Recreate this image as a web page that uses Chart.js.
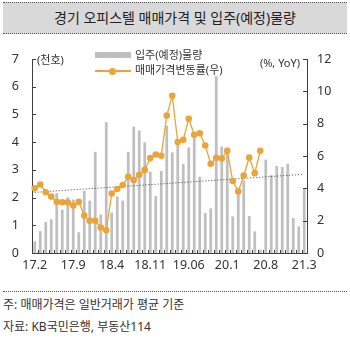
<!DOCTYPE html>
<html lang="ko">
<head>
<meta charset="utf-8">
<script src="https://cdn.jsdelivr.net/npm/chart.js@4"></script>
<style>
  body { margin: 0; width: 350px; height: 340px; background: #fff; position: relative; overflow: hidden;
         font-family: "Noto Sans", "Noto Sans CJK KR", sans-serif; color: #333; }
  .title { position: absolute; left: 3px; top: 2px; width: 344px; height: 30px; background: #d9d9d9;
           border-top: 1px dotted #555; border-bottom: 1px dotted #555; text-align: center;
           font-size: 14px; line-height: 30px; color: #222; }
  .chart-box { position: absolute; left: 0; top: 38px; width: 350px; height: 242px; }
  .txt { position: absolute; white-space: nowrap; font-size: 11px; line-height: 14px; color: #333; }
  .sw-bar { position: absolute; left: 95px; top: 52px; width: 36px; height: 6px; background: #bfbfbf; }
  .sw-line { position: absolute; left: 95px; top: 70px; width: 36px; height: 1.5px; background: #e9a53a; }
  .sw-dot { position: absolute; left: 109px; top: 67.5px; width: 7px; height: 7px; border-radius: 50%; background: #e9a53a; }
  .rule { position: absolute; left: 3px; top: 291px; width: 344px; border-top: 1px dotted #555; }
  .note { position: absolute; left: 3px; font-size: 12px; line-height: 16px; color: #333; }
</style>
</head>
<body>
<div class="title">경기 오피스텔 매매가격 및 입주(예정)물량</div>
<div class="chart-box"><canvas id="chart"></canvas></div>
<div class="txt" style="left:37px; top:53px;">(천호)</div>
<div class="txt" style="right:50px; top:56px;">(%, YoY)</div>
<div class="sw-bar"></div>
<div class="txt" style="left:135px; top:48px;">입주(예정)물량</div>
<div class="sw-line"></div>
<div class="sw-dot"></div>
<div class="txt" style="left:135px; top:63px;">매매가격변동률(우)</div>
<div class="rule"></div>
<div class="note" style="top:297px;">주: 매매가격은 일반거래가 평균 기준</div>
<div class="note" style="top:319px;">자료: KB국민은행, 부동산114</div>

<script>
// monthly categories, 2017.02 - 2021.03
const months = [
  '17.2','17.3','17.4','17.5','17.6','17.7','17.8','17.9','17.10','17.11','17.12',
  '18.1','18.2','18.3','18.4','18.5','18.6','18.7','18.8','18.9','18.10','18.11','18.12',
  '19.1','19.2','19.3','19.4','19.5','19.6','19.7','19.8','19.9','19.10','19.11','19.12',
  '20.1','20.2','20.3','20.4','20.5','20.6','20.7','20.8','20.9','20.10','20.11','20.12',
  '21.1','21.2','21.3'
];
// shown every 7th month
const xTickLabels = ['17.2', '17.9', '18.4', '18.11', '19.06', '20.1', '20.8', '21.3'];

// 입주(예정)물량, thousand units (left axis)
const supply = [
  0.42, 0.79, 1.12, 1.22, 2.16, 1.56, 2.01, 1.93, 0.75, 2.24, 1.89,
  3.65, 1.39, 4.72, 1.46, 2.04, 1.89, 3.65, 4.56, 4.42, 3.99, 2.93, 2.05,
  2.96, 4.60, 3.63, 3.99, 3.21, 3.81, 4.30, 2.75, 1.44, 1.61, 6.38, 3.84,
  3.80, 1.32, 2.26, 2.62, 1.33, 0.78, 0.12, 3.37, 2.81, 3.14, 3.10, 3.22,
  1.26, 0.96, 2.32
];

// 매매가격변동률, % YoY (right axis), ends at 20.7
const priceChange = [
  4.00, 4.24, 3.76, 3.49, 3.17, 3.14, 3.14, 2.94, 3.16, 2.32, 1.99,
  1.99, 1.58, 1.40, 3.68, 3.96, 4.20, 4.72, 4.52, 4.84, 5.14, 5.87, 6.09,
  6.02, 8.50, 9.72, 6.86, 7.00, 8.30, 7.31, 7.41, 6.65, 5.52, 5.89, 5.85,
  6.32, 4.45, 3.81, 4.79, 5.91, 4.94, 6.32, null, null, null, null, null,
  null, null, null
];

// dotted trend of the price change, first and last month
const trendStart = 3.75;
const trendEnd = 4.87;

const leftTicks = [0, 1, 2, 3, 4, 5, 6, 7];
const rightTicks = [0, 2, 4, 6, 8, 10, 12];

const orange = '#e9a53a';
const axisColor = '#404040';
const trendData = months.map((m, i) => i === 0 ? trendStart : (i === months.length - 1 ? trendEnd : null));

// tick marks that point into the plot
const innerTicks = {
  id: 'innerTicks',
  afterDatasetsDraw(chart) {
    const { ctx, chartArea, scales } = chart;
    ctx.save();
    ctx.strokeStyle = axisColor;
    ctx.lineWidth = 1;
    ctx.beginPath();
    leftTicks.forEach(v => {
      const y = Math.round(scales.y.getPixelForValue(v)) + 0.5;
      ctx.moveTo(chartArea.left, y);
      ctx.lineTo(chartArea.left + 4, y);
    });
    rightTicks.forEach(v => {
      const y = Math.round(scales.y2.getPixelForValue(v)) + 0.5;
      ctx.moveTo(chartArea.right, y);
      ctx.lineTo(chartArea.right - 4, y);
    });
    const step = (chartArea.right - chartArea.left) / months.length;
    for (let i = 1; i < months.length; i++) {
      const x = Math.round(chartArea.left + step * i) + 0.5;
      ctx.moveTo(x, chartArea.bottom);
      ctx.lineTo(x, chartArea.bottom - 3);
    }
    ctx.stroke();
    ctx.restore();
  }
};

const tickFont = { family: '"Noto Sans", "Noto Sans CJK KR", sans-serif', size: 12.5 };

new Chart(document.getElementById('chart'), {
  data: {
    labels: months,
    datasets: [
      {
        type: 'line',
        label: '매매가격변동률(우)',
        data: priceChange,
        yAxisID: 'y2',
        borderColor: orange,
        backgroundColor: orange,
        borderWidth: 1.3,
        pointRadius: 3.3,
        pointBorderWidth: 0,
        tension: 0,
        order: 0
      },
      {
        type: 'line',
        label: 'trend',
        data: trendData,
        yAxisID: 'y2',
        spanGaps: true,
        borderColor: '#444',
        borderWidth: 1,
        borderDash: [1, 2],
        pointRadius: 0,
        order: 1
      },
      {
        type: 'bar',
        label: '입주(예정)물량',
        data: supply,
        yAxisID: 'y',
        backgroundColor: '#bfbfbf',
        categoryPercentage: 1,
        barPercentage: 0.5,
        order: 2
      }
    ]
  },
  options: {
    responsive: true,
    maintainAspectRatio: false,
    animation: false,
    devicePixelRatio: 1,
    layout: { padding: { top: 21, left: 0, right: 0, bottom: 0 } },
    plugins: { legend: { display: false }, tooltip: { enabled: false } },
    scales: {
      x: {
        grid: { display: false, drawTicks: false },
        border: { display: true, color: axisColor, width: 1 },
        ticks: {
          autoSkip: false, maxRotation: 0, padding: 5, color: '#333', font: tickFont,
          callback: (v, i) => i % 7 === 0 ? xTickLabels[i / 7] : null
        },
        afterFit: s => { s.height = 27; }
      },
      y: {
        position: 'left',
        min: 0, max: 7,
        grid: { display: false, drawTicks: false },
        border: { display: true, color: axisColor, width: 1 },
        ticks: { stepSize: 1, padding: 13, color: '#333', font: tickFont },
        afterFit: s => { s.width = 32; }
      },
      y2: {
        position: 'right',
        min: 0, max: 12,
        grid: { display: false, drawTicks: false },
        border: { display: true, color: axisColor, width: 1 },
        ticks: { stepSize: 2, padding: 10, color: '#333', font: tickFont },
        afterFit: s => { s.width = 43; }
      }
    }
  },
  plugins: [innerTicks]
});
</script>
</body>
</html>
